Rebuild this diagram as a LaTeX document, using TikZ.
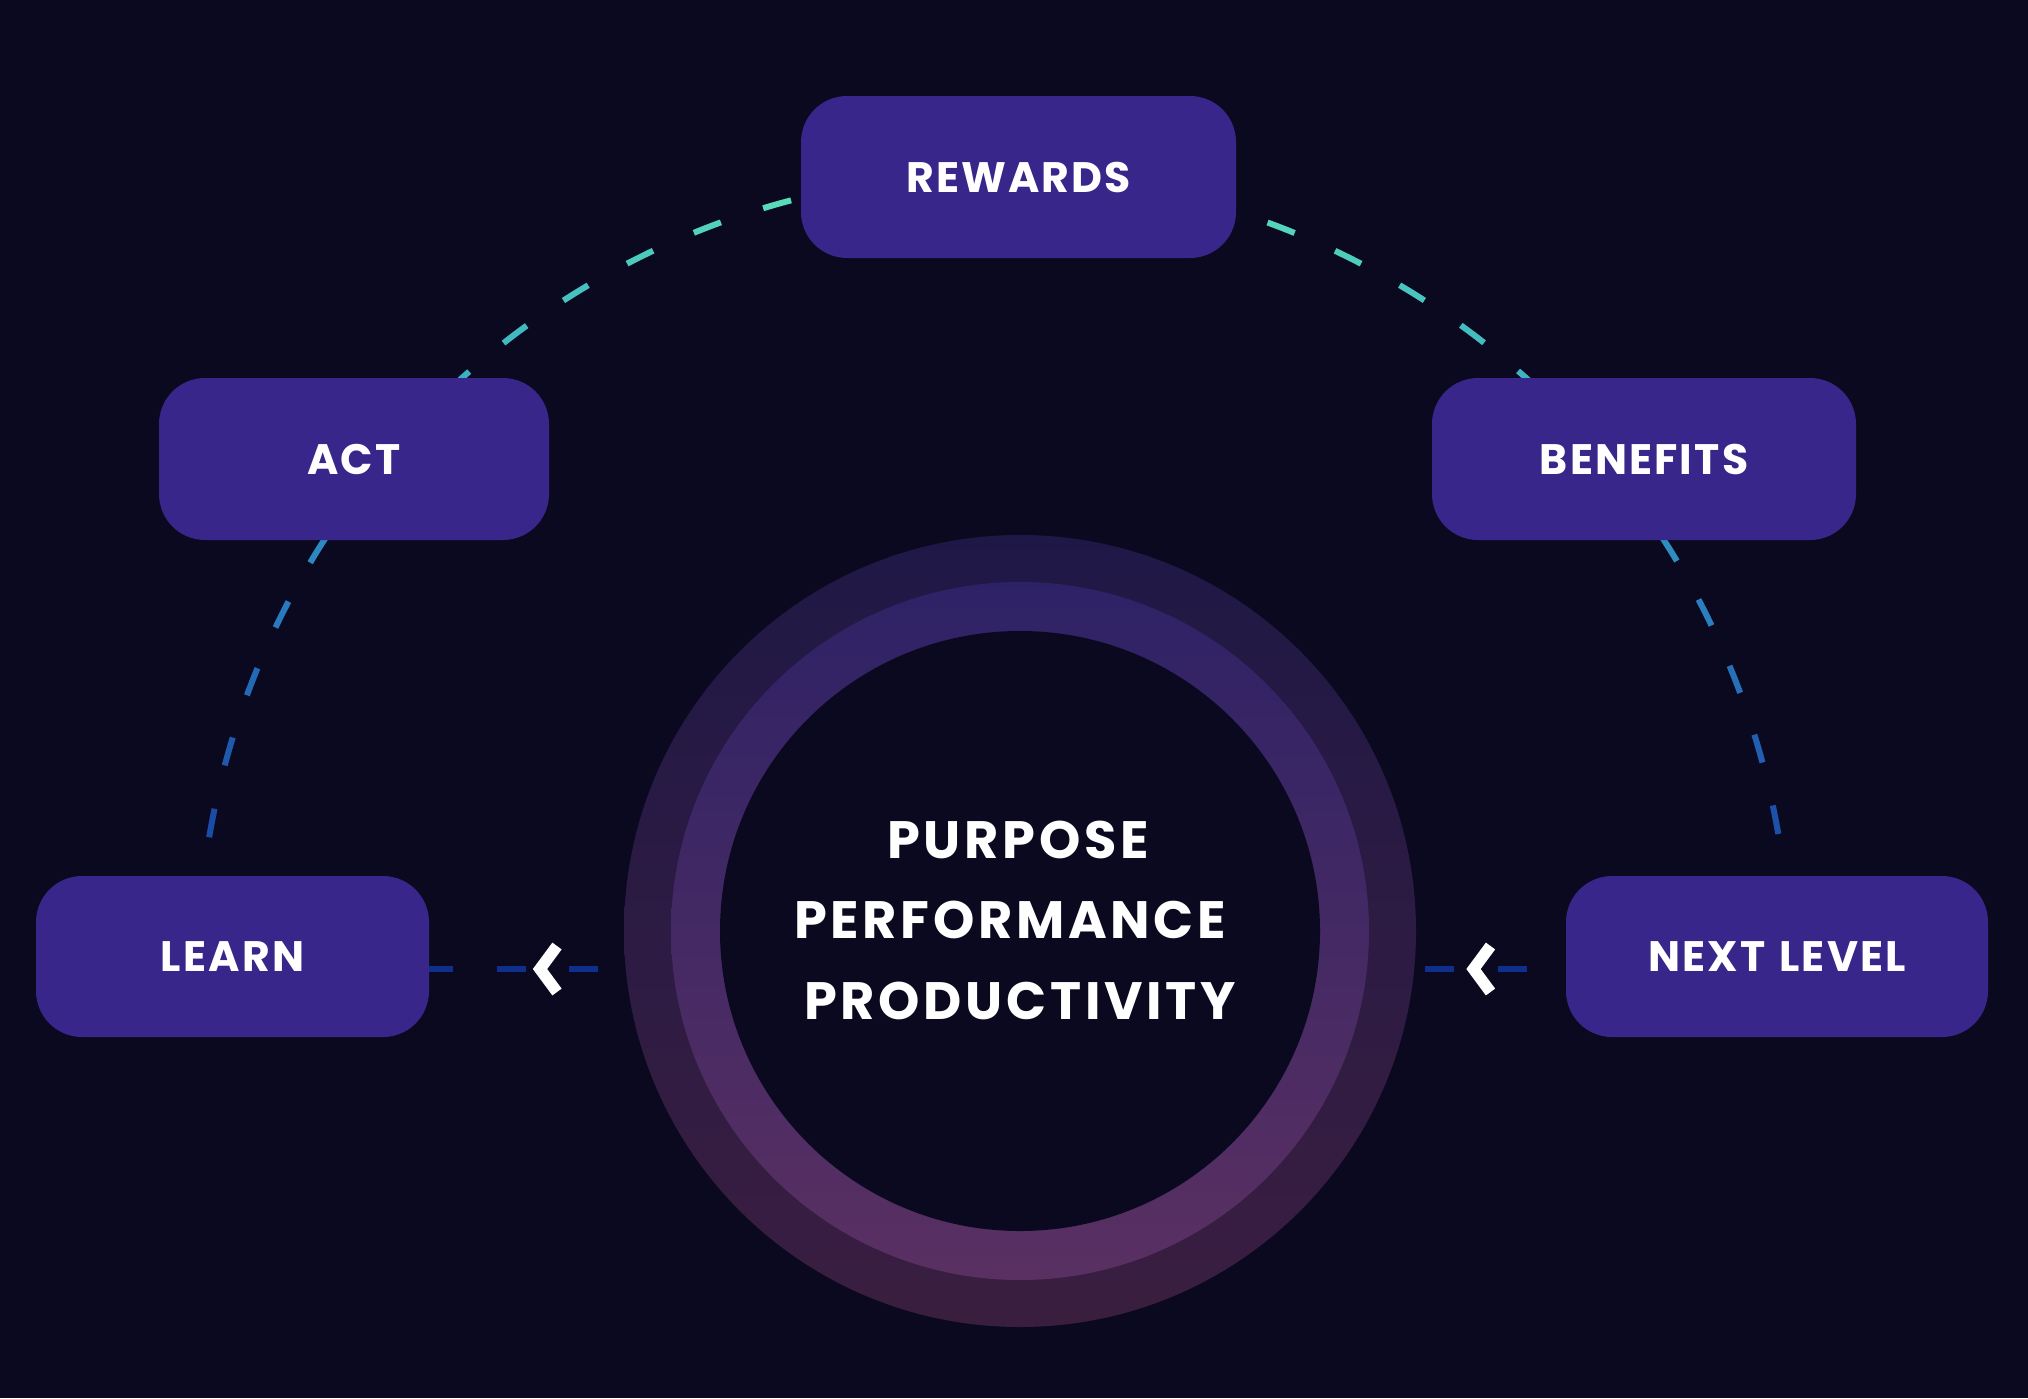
\documentclass[tikz,border=0pt]{standalone}
\usepackage{fontspec}
\setmainfont{Poppins}
\usetikzlibrary{calc}
\definecolor{bg}{HTML}{0B0920}
\definecolor{boxc}{HTML}{38268A}
\definecolor{ringOt}{HTML}{1F1846}
\definecolor{ringOb}{HTML}{3A1E40}
\definecolor{ringMt}{HTML}{2E2266}
\definecolor{ringMb}{HTML}{5A3062}
\definecolor{cA}{HTML}{58DCBA}
\definecolor{cB}{HTML}{3BAFC3}
\definecolor{cC}{HTML}{2A7FC0}
\definecolor{cD}{HTML}{1A4BA6}
\definecolor{hblue}{HTML}{0E2F8C}
\newcommand\mydashcol[1]{%
  \pgfmathsetmacro\dcT{abs(#1-90)/80}%
  \ifdim\dcT pt<0.2pt
    \colorlet{dc}{cA}%
  \else\ifdim\dcT pt<0.55pt
    \pgfmathsetmacro\dcP{(\dcT-0.2)/0.35*100}\colorlet{dc}{cB!\dcP!cA}%
  \else\ifdim\dcT pt<0.78pt
    \pgfmathsetmacro\dcP{(\dcT-0.55)/0.23*100}\colorlet{dc}{cC!\dcP!cB}%
  \else
    \pgfmathsetmacro\dcP{min((\dcT-0.78)/0.22*100,100)}\colorlet{dc}{cD!\dcP!cC}%
  \fi\fi\fi}
\begin{document}
\begin{tikzpicture}[x=0.5pt,y=-0.5pt,
  box/.style={fill=boxc, rounded corners=23pt, inner sep=0pt, text=white,
    minimum height=81pt, font=\fontsize{21.3}{24}\selectfont\bfseries\addfontfeatures{LetterSpace=5}},
  ctext/.style={inner sep=0pt, text=white, font=\fontsize{26.3}{30}\selectfont\bfseries\addfontfeatures{LetterSpace=7}},
  arcdash/.style={line width=3pt, line cap=butt},
  hdash/.style={draw=hblue, line width=3pt, dash pattern=on 14.5pt off 21.75pt},
  chev/.style={draw=white, line width=5.75pt, line join=miter, line cap=butt}]
\useasboundingbox (0,0) rectangle (2028,1398);
\fill[bg] (0,0) rectangle (2028,1398);

% rings
\coordinate (rc) at (1020,931);
\shade[top color=ringOt, bottom color=ringOb] (rc) circle[radius=396];
\shade[top color=ringMt, bottom color=ringMb] (rc) circle[radius=349];
\fill[bg] (rc) circle[radius=300];

% dashed arc (left half, from LEARN upward)
\foreach \k in {0,...,13} {
  \pgfmathsetmacro\a{170.4-\k*5.295}
  \mydashcol{\a}
  \draw[arcdash, draw=dc] ({994+796*cos(\a)},{970-796*sin(\a)}) arc[start angle=-\a, end angle={-\a+2.09}, radius=796];
}
% dashed arc (right half, from REWARDS downward)
\foreach \k in {0,...,11} {
  \pgfmathsetmacro\a{69.9-\k*5.27}
  \mydashcol{\a}
  \draw[arcdash, draw=dc] ({994+796*cos(\a)},{970-796*sin(\a)}) arc[start angle=-\a, end angle={-\a+2.09}, radius=796];
}

% horizontal dashed connectors
\coordinate (hL1) at (424,969);
\coordinate (hL2) at (598,969);
\coordinate (hR1) at (1425,969);
\coordinate (hR2) at (1527,969);
\draw[hdash] (hL1) -- (hL2);
\draw[hdash] (hR1) -- (hR2);

% chevrons
\coordinate (chL) at (540,969);
\coordinate (chR) at (1473.5,969);
\draw[chev] ($(chL)+(17,-23)$) -- (chL) -- ($(chL)+(17,23)$);
\draw[chev] ($(chR)+(17,-23)$) -- (chR) -- ($(chR)+(17,23)$);

% boxes
\node[box, minimum width=217.5pt] (rewards) at (1018.5,177) {REWARDS};
\node[box, minimum width=195pt] (act) at (354,459) {ACT};
\node[box, minimum width=212pt] (benefits) at (1644,459) {BENEFITS};
\node[box, minimum width=196.5pt, minimum height=80.5pt] (learn) at (232.5,956.5) {LEARN};
\node[box, minimum width=211pt, minimum height=80.5pt] (next) at (1777,956.5) {NEXT\hspace{7pt}LEVEL};

% centre text
\node[ctext] (t1) at (1018,840) {PURPOSE};
\node[ctext] (t2) at (1010,920) {PERFORMANCE};
\node[ctext] (t3) at (1020,1001) {PRODUCTIVITY};
\end{tikzpicture}
\end{document}
